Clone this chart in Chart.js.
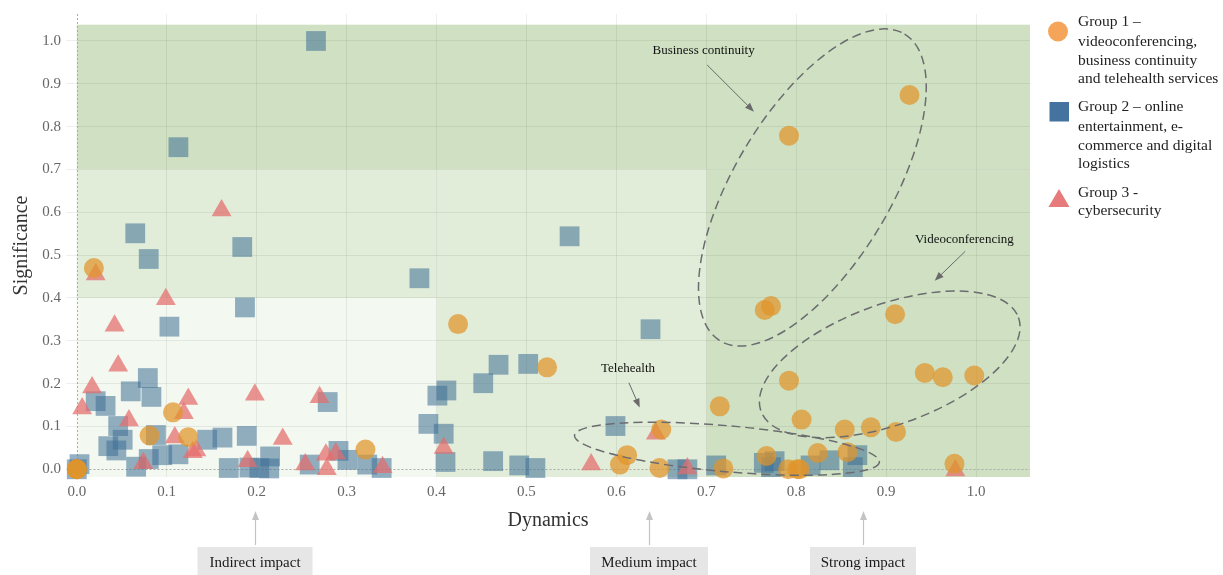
<!DOCTYPE html>
<html><head><meta charset="utf-8">
<script src="https://cdn.jsdelivr.net/npm/chart.js@4.4.1/dist/chart.umd.min.js"></script>
<style>html,body{margin:0;padding:0;background:#fff;}#wrap{position:relative;width:1223px;height:575px;}</style>
</head><body><div id="wrap"><canvas id="c" width="1223" height="575"></canvas></div>
<script>
// ---- tick labels ----
const xTicks = [0.0,0.1,0.2,0.3,0.4,0.5,0.6,0.7,0.8,0.9,1.0];
const yTicks = [0.0,0.1,0.2,0.3,0.4,0.5,0.6,0.7,0.8,0.9,1.0];

// ---- Group 1: videoconferencing, business continuity, telehealth ----
const group1X = [0.0,0.0,0.0,0.019,0.107,0.081,0.124,0.321,0.424,0.523,0.650,0.612,0.604,0.648,0.715,0.719,0.765,0.772,0.792,0.806,0.767,0.791,0.801,0.804,0.824,0.854,0.883,0.857,0.911,0.910,0.943,0.963,0.998,0.976,0.792,0.926];
const group1Y = [0.0,0.0,0.0,0.470,0.133,0.079,0.075,0.046,0.339,0.238,0.093,0.033,0.011,0.003,0.147,0.002,0.372,0.381,0.207,0.116,0.031,0.0,0.0,0.0,0.038,0.093,0.098,0.040,0.087,0.362,0.225,0.215,0.219,0.013,0.779,0.874];

// ---- Group 2: online entertainment, e-commerce, digital logistics ----
const group2X = [0.0,0.003,0.266,0.113,0.065,0.080,0.184,0.381,0.187,0.103,0.548,0.638,0.469,0.502,0.452,0.411,0.401,0.391,0.408,0.410,0.463,0.492,0.510,0.599,0.668,0.679,0.711,0.764,0.776,0.772,0.816,0.837,0.868,0.863,
  0.021,0.032,0.060,0.079,0.083,0.046,0.051,0.035,0.044,0.088,0.066,0.080,0.095,0.113,0.145,0.162,0.189,0.169,0.192,0.203,0.215,0.214,0.279,0.259,0.291,0.301,0.323,0.339];
const group2Y = [0.0,0.012,1.0,0.752,0.551,0.491,0.519,0.446,0.378,0.333,0.544,0.327,0.244,0.246,0.201,0.184,0.172,0.106,0.083,0.017,0.019,0.009,0.003,0.101,0.0,0.0,0.009,0.015,0.019,0.005,0.009,0.021,0.033,0.005,
  0.159,0.148,0.182,0.213,0.169,0.101,0.069,0.054,0.044,0.080,0.006,0.024,0.033,0.035,0.069,0.074,0.078,0.003,0.004,0.003,0.030,0.002,0.157,0.011,0.043,0.022,0.011,0.003];

// ---- Group 3: cybersecurity ----
const group3X = [0.161,0.021,0.099,0.042,0.046,0.017,0.006,0.058,0.124,0.119,0.109,0.133,0.129,0.074,0.198,0.190,0.229,0.270,0.254,0.277,0.288,0.278,0.340,0.408,0.572,0.644,0.679,0.977];
const group3Y = [0.604,0.455,0.397,0.335,0.242,0.191,0.142,0.114,0.164,0.131,0.074,0.044,0.040,0.014,0.174,0.019,0.071,0.168,0.011,0.034,0.037,0.0,0.005,0.050,0.011,0.083,0.002,-0.003];

const pts = (xs, ys) => xs.map((x, i) => ({x: x, y: ys[i]}));
const SERIF = "'Liberation Serif', 'Times New Roman', serif";

// background impact zones (data units)
const zones = [
  {x0:0, x1:1.06, y0:0.7, y1:1.038, c:'#cfe1c2'},
  {x0:0.7, x1:1.06, y0:-0.018, y1:0.7, c:'#cfe1c2'},
  {x0:0.4, x1:0.7, y0:-0.018, y1:0.7, c:'#e1edd8'},
  {x0:0, x1:0.4, y0:0.4, y1:0.7, c:'#e1edd8'},
  {x0:0, x1:0.4, y0:-0.018, y1:0.4, c:'#f3f8f0'}
];

// cluster ellipses: centre in data units, radii in px, rotation deg
const clusters = [
  {cx:0.818, cy:0.658, a:179, b:78, rot:-59},
  {cx:0.904, cy:0.245, a:137, b:60, rot:-20},
  {cx:0.723, cy:0.048, a:153, b:23, rot:5.0}
];
const callouts = [
  {text:'Business continuity', tx:0.697, ty:0.977, x1:0.701, y1:0.944, x2:0.753, y2:0.835},
  {text:'Videoconferencing',  tx:0.987, ty:0.537, x1:0.988, y1:0.509, x2:0.954, y2:0.440},
  {text:'Telehealth',         tx:0.613, ty:0.235, x1:0.614, y1:0.202, x2:0.626, y2:0.144}
];
const impacts = [
  {text:'Indirect impact', x:0.198, w:115},
  {text:'Medium impact', x:0.636, w:118},
  {text:'Strong impact', x:0.874, w:106}
];

function arrow(ctx, x1, y1, x2, y2, color, lw, hl, hw) {
  const ang = Math.atan2(y2 - y1, x2 - x1);
  ctx.save();
  ctx.strokeStyle = color; ctx.fillStyle = color; ctx.lineWidth = lw; ctx.setLineDash([]);
  ctx.beginPath(); ctx.moveTo(x1, y1);
  ctx.lineTo(x2 - Math.cos(ang) * hl * 0.8, y2 - Math.sin(ang) * hl * 0.8); ctx.stroke();
  ctx.beginPath();
  ctx.moveTo(x2, y2);
  ctx.lineTo(x2 - hl * Math.cos(ang) + hw / 2 * Math.sin(ang), y2 - hl * Math.sin(ang) - hw / 2 * Math.cos(ang));
  ctx.lineTo(x2 - hl * Math.cos(ang) - hw / 2 * Math.sin(ang), y2 - hl * Math.sin(ang) + hw / 2 * Math.cos(ang));
  ctx.closePath(); ctx.fill();
  ctx.restore();
}

const decor = {
  id: 'decor',
  beforeDraw(chart) {
    const {ctx, scales: {x, y}} = chart;
    ctx.save();
    ctx.fillStyle = '#fff'; ctx.fillRect(0, 0, chart.width, chart.height);
    zones.forEach(z => {
      const px0 = x.getPixelForValue(z.x0), px1 = x.getPixelForValue(z.x1);
      const py0 = y.getPixelForValue(z.y0), py1 = y.getPixelForValue(z.y1);
      ctx.fillStyle = z.c;
      ctx.fillRect(px0, py1, px1 - px0, py0 - py1);
    });
    ctx.restore();
  },
  beforeDatasetsDraw(chart) {
    const {ctx, chartArea: ca, scales: {x, y}} = chart;
    ctx.save();
    ctx.strokeStyle = '#aaaaaa'; ctx.lineWidth = 1; ctx.setLineDash([2, 2]);
    const x0 = Math.round(x.getPixelForValue(0)) + 0.5, y0 = Math.round(y.getPixelForValue(0)) + 0.5;
    ctx.beginPath(); ctx.moveTo(x0, ca.top); ctx.lineTo(x0, ca.bottom); ctx.stroke();
    ctx.beginPath(); ctx.moveTo(x0, y0); ctx.lineTo(ca.right, y0); ctx.stroke();
    ctx.restore();
  },
  afterDraw(chart) {
    const {ctx, scales: {x, y}} = chart;
    ctx.save();
    // ellipses
    ctx.strokeStyle = '#6c6c70'; ctx.lineWidth = 1.5; ctx.setLineDash([9, 5]);
    clusters.forEach(c => {
      ctx.beginPath();
      ctx.ellipse(x.getPixelForValue(c.cx), y.getPixelForValue(c.cy), c.a, c.b, c.rot * Math.PI / 180, 0, Math.PI * 2);
      ctx.stroke();
    });
    ctx.setLineDash([]);
    // callouts
    ctx.font = '13px ' + SERIF; ctx.fillStyle = '#111'; ctx.textAlign = 'center'; ctx.textBaseline = 'middle';
    callouts.forEach(c => {
      ctx.fillText(c.text, x.getPixelForValue(c.tx), y.getPixelForValue(c.ty));
      arrow(ctx, x.getPixelForValue(c.x1), y.getPixelForValue(c.y1), x.getPixelForValue(c.x2), y.getPixelForValue(c.y2), '#6a6a6a', 1, 9, 7);
    });
    // impact boxes
    impacts.forEach(m => {
      const px = Math.round(x.getPixelForValue(m.x));
      ctx.fillStyle = '#e6e6e6';
      ctx.fillRect(px - m.w / 2, 547, m.w, 30);
      arrow(ctx, px + 0.5, 545, px + 0.5, 511, '#c4c4c4', 1.2, 9, 7);
      ctx.fillStyle = '#1a1a1a'; ctx.font = '15px ' + SERIF;
      ctx.fillText(m.text, px, 563);
    });
    // legend
    const lx = 1078;
    ctx.textAlign = 'left'; ctx.textBaseline = 'middle'; ctx.font = '15.5px ' + SERIF;
    ctx.fillStyle = '#f5a55a';
    ctx.beginPath(); ctx.arc(1058, 31.5, 10, 0, Math.PI * 2); ctx.fill();
    ctx.fillStyle = '#44739f';
    ctx.fillRect(1049.5, 102, 19.5, 19.5);
    ctx.fillStyle = '#e77a7a';
    ctx.beginPath(); ctx.moveTo(1059, 189); ctx.lineTo(1069.5, 207); ctx.lineTo(1048.5, 207); ctx.closePath(); ctx.fill();
    ctx.fillStyle = '#222';
    const leg = [
      ['Group 1 \u2013', 21.7], ['videoconferencing,', 41.7], ['business continuity', 60.5], ['and telehealth services', 79],
      ['Group 2 \u2013 online', 107], ['entertainment, e-', 126.5], ['commerce and digital', 145.5], ['logistics', 164],
      ['Group 3 -', 193], ['cybersecurity', 211]
    ];
    leg.forEach(l => ctx.fillText(l[0], lx, l[1]));
    ctx.restore();
  }
};

const tickFont = {family: SERIF, size: 15};
const gridColor = ctx => (ctx.tick && ctx.tick.value === 0) ? 'rgba(0,0,0,0)' : 'rgba(0,0,0,0.065)';

new Chart(document.getElementById('c'), {
  type: 'scatter',
  data: {
    datasets: [
      {label: 'Group 1', data: pts(group1X, group1Y), pointStyle: 'circle', pointRadius: 10, backgroundColor: 'rgba(224,148,42,0.72)', borderWidth: 0, clip: false},
      {label: 'Group 3', data: pts(group3X, group3Y), pointStyle: 'triangle', pointRadius: 11.5, backgroundColor: 'rgba(228,108,108,0.72)', borderWidth: 0, clip: false},
      {label: 'Group 2', data: pts(group2X, group2Y), pointStyle: 'rect', pointRadius: 14, backgroundColor: 'rgba(62,112,150,0.55)', borderWidth: 0, clip: false}
    ]
  },
  options: {
    responsive: false, animation: false, events: [], devicePixelRatio: 1,
    layout: {padding: {top: 12, right: 193, left: 0, bottom: 0}},
    plugins: {legend: {display: false}, tooltip: {enabled: false}},
    scales: {
      x: {
        type: 'linear', min: -0.012, max: 1.06,
        afterBuildTicks: s => { s.ticks = xTicks.map(v => ({value: v})); },
        afterFit: s => { s.height = 98; },
        ticks: {callback: v => Number(v).toFixed(1), font: tickFont, color: '#666', padding: 6, maxRotation: 0, autoSkip: false},
        grid: {color: gridColor, drawTicks: false},
        border: {display: false},
        title: {display: true, text: 'Dynamics', font: {family: SERIF, size: 20}, color: '#333', padding: {top: 0, bottom: 42}}
      },
      y: {
        type: 'linear', min: -0.018, max: 1.063,
        afterBuildTicks: s => { s.ticks = yTicks.map(v => ({value: v})); },
        afterFit: s => { s.width = 66; },
        ticks: {callback: v => Number(v).toFixed(1), font: tickFont, color: '#666', padding: 5, autoSkip: false},
        grid: {color: gridColor, drawTicks: false},
        border: {display: false},
        title: {display: true, text: 'Significance', font: {family: SERIF, size: 20}, color: '#333', padding: {top: 10, bottom: 0}}
      }
    }
  },
  plugins: [decor]
});
</script></body></html>
